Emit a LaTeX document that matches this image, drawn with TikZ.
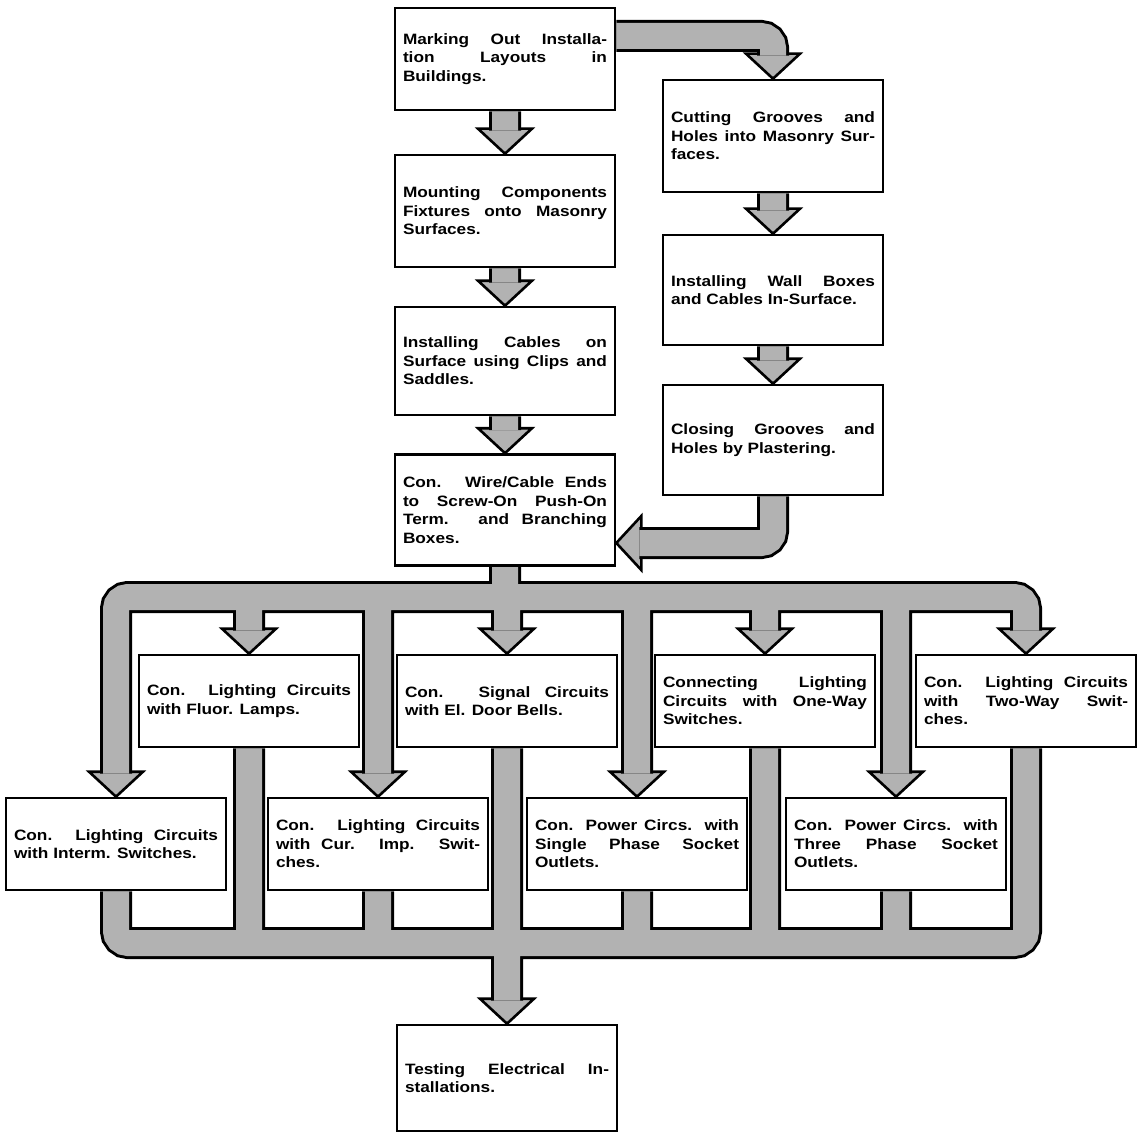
\documentclass[tikz,border=0pt]{standalone}
\usepackage{fontspec}
\setmainfont{Liberation Sans}[FakeStretch=1.15]
\usetikzlibrary{calc,backgrounds}
\hyphenpenalty=10000 \exhyphenpenalty=10000 \tolerance=10000 \hbadness=10000
\colorlet{pipegray}{black!30}

\begin{document}
\begin{tikzpicture}[x=1pt, y=-1pt,
  box/.style={draw, line width=2.6pt, fill=white, text width=204pt, inner xsep=8pt, inner ysep=0pt, align=justify, font=\bfseries\fontsize{15}{18.5}\selectfont},
  pipe/.style={draw=black, line width=3pt, double=pipegray, double distance=26pt, rounded corners=12pt},
  head/.style={draw, line width=2.6pt, fill=pipegray, line join=miter}]
\useasboundingbox (0,0) rectangle (1143,1134);
% left column
\node[box, minimum height=102pt] (mark) at (505,59) {Marking Out Installa-\linebreak tion Layouts in\linebreak Buildings.};
\node[box, minimum height=112pt] (mount) at (505,211) {Mounting Components\linebreak Fixtures onto Masonry\linebreak Surfaces.};
\node[box, minimum height=108pt] (cable) at (505,361) {Installing Cables on\linebreak Surface using Clips and\linebreak Saddles.};
\node[box, minimum height=111pt] (wire) at (505,510) {Con. Wire/Cable Ends\linebreak to Screw-On Push-On\linebreak Term. and Branching\linebreak Boxes.};
% right column
\node[box, minimum height=112pt] (cut) at (773,136) {Cutting Grooves and\linebreak Holes into Masonry Sur-\linebreak faces.};
\node[box, minimum height=110pt] (wall) at (773,290) {Installing Wall Boxes\linebreak and Cables In-Surface.};
\node[box, minimum height=110pt] (close) at (773,440) {Closing Grooves and\linebreak Holes by Plastering.};
% upper row
\node[box, minimum height=92pt] (fluor) at (249,701) {Con. Lighting Circuits\linebreak with Fluor. Lamps.};
\node[box, minimum height=92pt] (sig) at (507,701) {Con. Signal Circuits\linebreak with El. Door Bells.};
\node[box, minimum height=92pt] (one) at (765,701) {Connecting Lighting\linebreak Circuits with One-Way\linebreak Switches.};
\node[box, minimum height=92pt] (two) at (1026,701) {Con. Lighting Circuits\linebreak with Two-Way Swit-\linebreak ches.};
% lower row
\node[box, minimum height=92pt] (interm) at (116,844) {Con. Lighting Circuits\linebreak with Interm. Switches.};
\node[box, minimum height=92pt] (cur) at (378,844) {Con. Lighting Circuits\linebreak with Cur. Imp. Swit-\linebreak ches.};
\node[box, minimum height=92pt] (single) at (637,844) {Con. Power Circs. with\linebreak Single Phase Socket\linebreak Outlets.};
\node[box, minimum height=92pt] (three) at (896,844) {Con. Power Circs. with\linebreak Three Phase Socket\linebreak Outlets.};
\node[box, minimum height=106pt] (test) at (507,1078) {Testing Electrical In-\linebreak stallations.};
% bends and ring
\coordinate (m) at (773,36);
\coordinate (c) at (773,543);
\coordinate (tl) at (116,597);
\coordinate (tr) at (1026,597);
\coordinate (bl) at (116,943);
\coordinate (br) at (1026,943);
\begin{scope}[on background layer]
\foreach \b in {mount,cable,wire,cut,wall,close,fluor,sig,one,two,interm,cur,single,three,test}
  \draw[head] (\b.north) -- ++(-27,-25) -- ++(54,0) -- cycle;
\draw[head] (wire.east |- c) -- ++(25,-27) -- ++(0,54) -- cycle;
\draw[pipe] (mark.south) -- ($(mount.north)+(0,-23)$)
  (mount.south) -- ($(cable.north)+(0,-23)$)
  (cable.south) -- ($(wire.north)+(0,-23)$)
  (mark.east |- m) -- (m) -- ($(cut.north)+(0,-23)$)
  (cut.south) -- ($(wall.north)+(0,-23)$)
  (wall.south) -- ($(close.north)+(0,-23)$)
  (close.south) -- (c) -- ($(wire.east |- c)+(23,0)$)
  (wire.south) -- (wire.south |- tl)
  ($(interm.north)+(0,-23)$) -- (tl) -- (tr) -- ($(two.north)+(0,-23)$)
  (interm.south) -- (bl) -- (br) -- (two.south)
  (fluor.north |- tl) -- ($(fluor.north)+(0,-23)$)
  (sig.north |- tl) -- ($(sig.north)+(0,-23)$)
  (one.north |- tl) -- ($(one.north)+(0,-23)$)
  (cur.north |- tl) -- ($(cur.north)+(0,-23)$)
  (single.north |- tl) -- ($(single.north)+(0,-23)$)
  (three.north |- tl) -- ($(three.north)+(0,-23)$)
  (fluor.south) -- (fluor.south |- bl)
  (sig.south) -- (sig.south |- bl)
  (one.south) -- (one.south |- bl)
  (cur.south) -- (cur.south |- bl)
  (single.south) -- (single.south |- bl)
  (three.south) -- (three.south |- bl)
  (test.north |- bl) -- ($(test.north)+(0,-23)$);
\end{scope}
\end{tikzpicture}
\end{document}
